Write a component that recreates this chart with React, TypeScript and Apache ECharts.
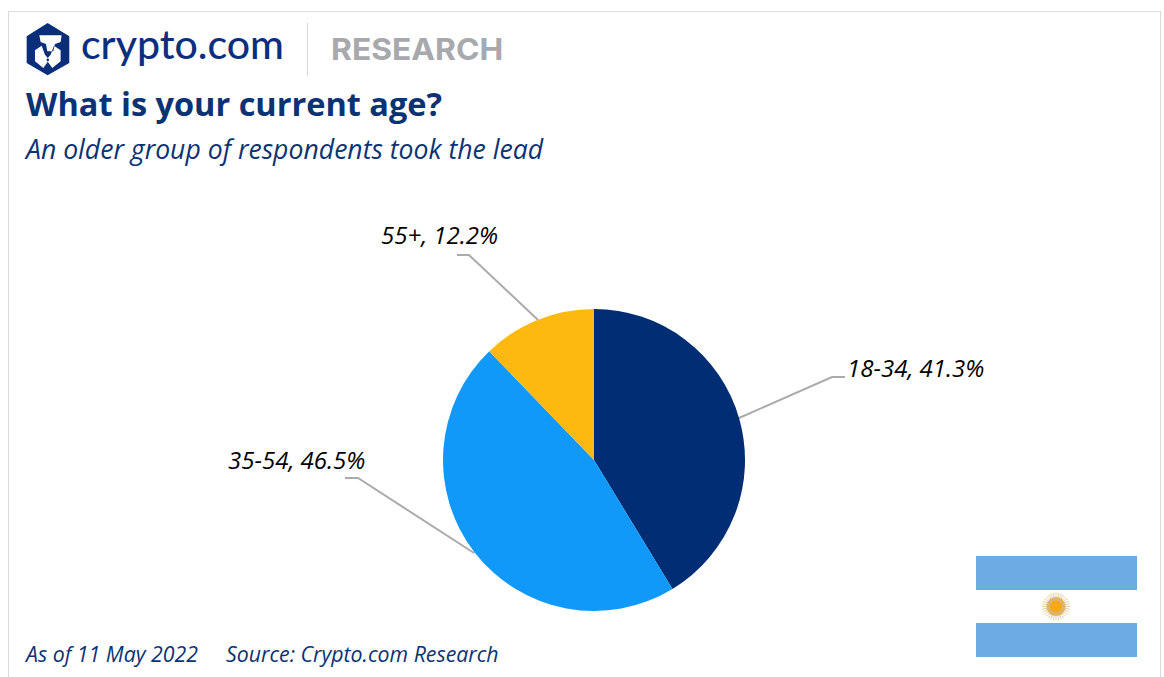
import React, { useEffect, useRef } from "react";
import * as echarts from "echarts";

const categories = ["18-34", "35-54", "55+"];
const shares = [41.3, 46.5, 12.2];
const sliceColors = ["#002D74", "#1199FA", "#FDB90F"];
const titleText = "What is your current age?";
const subtitleText = "An older group of respondents took the lead";
const dateText = "As of 11 May 2022";
const sourceText = "Source: Crypto.com Research";

const NAVY = "#0B3373";
const FONT = "'Open Sans'";

const labelPlacement: Record<string, { x: number; y: number; line: number[][] }> = {
  "18-34": { x: 847, y: 367, line: [[739, 418], [832, 377], [845, 377]] },
  "35-54": { x: 228, y: 459, line: [[474, 553], [358, 478], [345, 478]] },
  "55+": { x: 381, y: 234, line: [[538, 320], [469, 255], [457, 255]] },
};

echarts.graphic.registerShape(
  "cdcHex",
  echarts.graphic.extendPath("M83 15 L148 55 L148 135 L83 172 L20 135 L20 55 Z", {})
);
echarts.graphic.registerShape(
  "cdcLion",
  echarts.graphic.extendPath(
    "M58 52 L125 52 L122 72 L105 78 L100 100 L82 100 L78 78 L62 72 Z M45 97 L65 83 L75 110 L88 125 L70 150 L45 130 Z M122 97 L102 83 L92 110 L79 125 L97 150 L122 130 Z",
    {}
  )
);

const sunRays = Array.from({ length: 32 }, (_, i) => (i * Math.PI) / 16);

export default function App() {
  const ref = useRef<HTMLDivElement>(null);
  useEffect(() => {
    const chart = echarts.init(ref.current!, undefined, { renderer: "svg" });
    chart.setOption({
      animation: false,
      backgroundColor: "#FFFFFF",
      title: [
        { text: titleText, left: 26, top: 87, padding: 0, textStyle: { color: NAVY, fontFamily: FONT, fontWeight: 700, fontSize: 32.5 } },
        { text: subtitleText, left: 26, top: 135, padding: 0, textStyle: { color: NAVY, fontFamily: FONT, fontWeight: 400, fontStyle: "italic", fontSize: 26.6 } },
        { text: dateText, left: 26, top: 643, padding: 0, textStyle: { color: NAVY, fontFamily: FONT, fontWeight: 400, fontStyle: "italic", fontSize: 21.3 } },
        { text: sourceText, left: 226, top: 643, padding: 0, textStyle: { color: NAVY, fontFamily: FONT, fontWeight: 400, fontStyle: "italic", fontSize: 21.3 } },
      ],
      graphic: [
        { type: "line", shape: { x1: 8.5, y1: 11.5, x2: 8.5, y2: 677 }, style: { stroke: "#D9D9D9", lineWidth: 1 } },
        { type: "line", shape: { x1: 8, y1: 11.5, x2: 1160, y2: 11.5 }, style: { stroke: "#DEDEDE", lineWidth: 1 } },
        { type: "line", shape: { x1: 1160.5, y1: 11, x2: 1160.5, y2: 677 }, style: { stroke: "#D9D9D9", lineWidth: 1 } },
        { type: "cdcHex", x: 20, y: 18, scaleX: 1 / 3, scaleY: 1 / 3, style: { fill: "#0B2E78" } },
        { type: "cdcLion", x: 20, y: 18, scaleX: 1 / 3, scaleY: 1 / 3, style: { fill: "#FFFFFF" } },
        { type: "text", x: 81, y: 23, style: { text: "crypto.com", fill: "#0B2F7E", font: "500 41px Lato" } },
        { type: "line", shape: { x1: 307.5, y1: 23, x2: 307.5, y2: 76 }, style: { stroke: "#D8D8D8", lineWidth: 1 } },
        { type: "text", x: 331, y: 34, scaleX: 1.06, style: { text: "RESEARCH", fill: "#A7A9AC", font: "700 30px Inter" } },
        { type: "rect", shape: { x: 976, y: 556, width: 161, height: 34 }, style: { fill: "#6CABE4" } },
        { type: "rect", shape: { x: 976, y: 623, width: 161, height: 34 }, style: { fill: "#6CABE4" } },
        ...sunRays.map((a) => ({
          type: "line",
          shape: { x1: 1056 + 8 * Math.cos(a), y1: 606.5 + 8 * Math.sin(a), x2: 1056 + 14 * Math.cos(a), y2: 606.5 + 14 * Math.sin(a) },
          style: { stroke: "#E8CF9C", lineWidth: 1 },
        })),
        { type: "circle", shape: { cx: 1056, cy: 606.5, r: 9.5 }, style: { fill: "#DDB66E" } },
        { type: "circle", shape: { cx: 1056, cy: 606.5, r: 6 }, style: { fill: "#F5A81C" } },
      ],
      series: [
        {
          type: "pie",
          center: [594, 460],
          radius: [0, 151],
          startAngle: 90,
          clockwise: true,
          silent: true,
          data: categories.map((name, i) => ({ name, value: shares[i], itemStyle: { color: sliceColors[i] } })),
          label: {
            show: true,
            formatter: (p: any) => `${p.name}, ${p.value}%`,
            fontFamily: FONT,
            fontStyle: "italic",
            fontSize: 24,
            color: "#000000",
          },
          labelLine: { show: true, showAbove: true, lineStyle: { color: "#ABABAB", width: 2 } },
          labelLayout: (p: any) => {
            const spot = labelPlacement[categories[p.dataIndex]];
            return { x: spot.x, y: spot.y, align: "left", verticalAlign: "middle", labelLinePoints: spot.line };
          },
        },
      ],
    });
    return () => chart.dispose();
  }, []);
  return <div ref={ref} style={{ position: "fixed", left: 0, top: 0, width: 1164, height: 677 }} />;
}
